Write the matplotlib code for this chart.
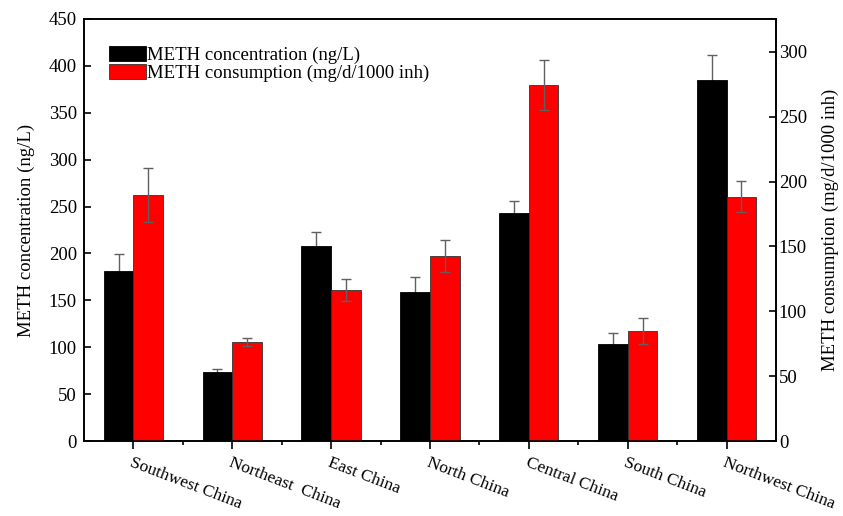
import numpy as np
import matplotlib
matplotlib.use("Agg")
import matplotlib.pyplot as plt
import matplotlib.transforms as mtransforms
from matplotlib.ticker import MultipleLocator

plt.rcParams['font.family'] = ['Liberation Serif', 'DejaVu Serif']

# data
regions = ['Southwest China', 'Northeast  China', 'East China', 'North China',
           'Central China', 'South China', 'Northwest China']
conc = [181.6, 73.3, 207.9, 158.5, 243.4, 103.4, 385.0]       # ng/L
conc_err = [17.5, 4.0, 15.0, 16.0, 12.5, 11.5, 26.7]
cons = [189.7, 76.3, 116.4, 142.6, 274.5, 85.0, 188.4]        # mg/d/1000 inh
cons_err = [20.5, 3.0, 8.7, 12.5, 19.0, 10.0, 12.0]

x = np.arange(len(regions))
w = 0.3

fig = plt.figure(figsize=(8.43, 5.16), dpi=100)
ax1 = fig.add_axes([0.0996, 0.1453, 0.8209, 0.8179])
ax2 = ax1.twinx()

err_kw = dict(fmt='none', ecolor='#606060', elinewidth=1.0, capsize=3.5, capthick=1.0)

# black bars: error bars drawn underneath so only the upper half shows
ax1.errorbar(x - w / 2, conc, yerr=conc_err, zorder=1, **err_kw)
b1 = ax1.bar(x - w / 2, conc, w, color='black', edgecolor='black',
             linewidth=0.6, zorder=2, label='METH concentration (ng/L)')
b2 = ax2.bar(x + w / 2, cons, w, color='#ff0000', edgecolor='#333333',
             linewidth=0.6, zorder=2, label='METH consumption (mg/d/1000 inh)')
ax2.errorbar(x + w / 2, cons, yerr=cons_err, zorder=3, **err_kw)

ax1.set_xlim(-0.5, len(regions) - 0.5)
ax1.set_ylim(0, 450)
ax2.set_ylim(0, 325.4)
ax1.yaxis.set_major_locator(MultipleLocator(50))
ax2.yaxis.set_major_locator(MultipleLocator(50))

ax1.set_xticks(x)
ax1.set_xticks(x[:-1] + 0.5, minor=True)
ax1.set_xticklabels(regions, rotation=-21, ha='left', va='top',
                    rotation_mode='anchor', fontsize=12.5)
offset = mtransforms.ScaledTranslation(-8 / 100, 0, fig.dpi_scale_trans)
for lab in ax1.get_xticklabels():
    lab.set_transform(lab.get_transform() + offset)

ax1.tick_params(axis='x', which='major', direction='out', length=6, width=1.2, pad=4)
ax1.tick_params(axis='x', which='minor', direction='out', length=3, width=1.2)
ax1.tick_params(axis='y', direction='in', length=5, width=1.2, labelsize=13.5, pad=5)
ax2.tick_params(axis='y', direction='in', length=5, width=1.2, labelsize=13.5, pad=2)

for ax in (ax1, ax2):
    for s in ax.spines.values():
        s.set_linewidth(1.2)

ax1.set_ylabel('METH concentration (ng/L)', fontsize=13.5, labelpad=10)
ax2.set_ylabel('METH consumption (mg/d/1000 inh)', fontsize=13.5, labelpad=11)

ax2.legend(handles=[b1, b2], loc='upper left', bbox_to_anchor=(0.036, 0.935),
           frameon=False, fontsize=13.5, handlelength=2.0, handleheight=0.8,
           handletextpad=0.05, labelspacing=0.0, borderaxespad=0, borderpad=0)

fig.savefig('out.png', dpi=100)
